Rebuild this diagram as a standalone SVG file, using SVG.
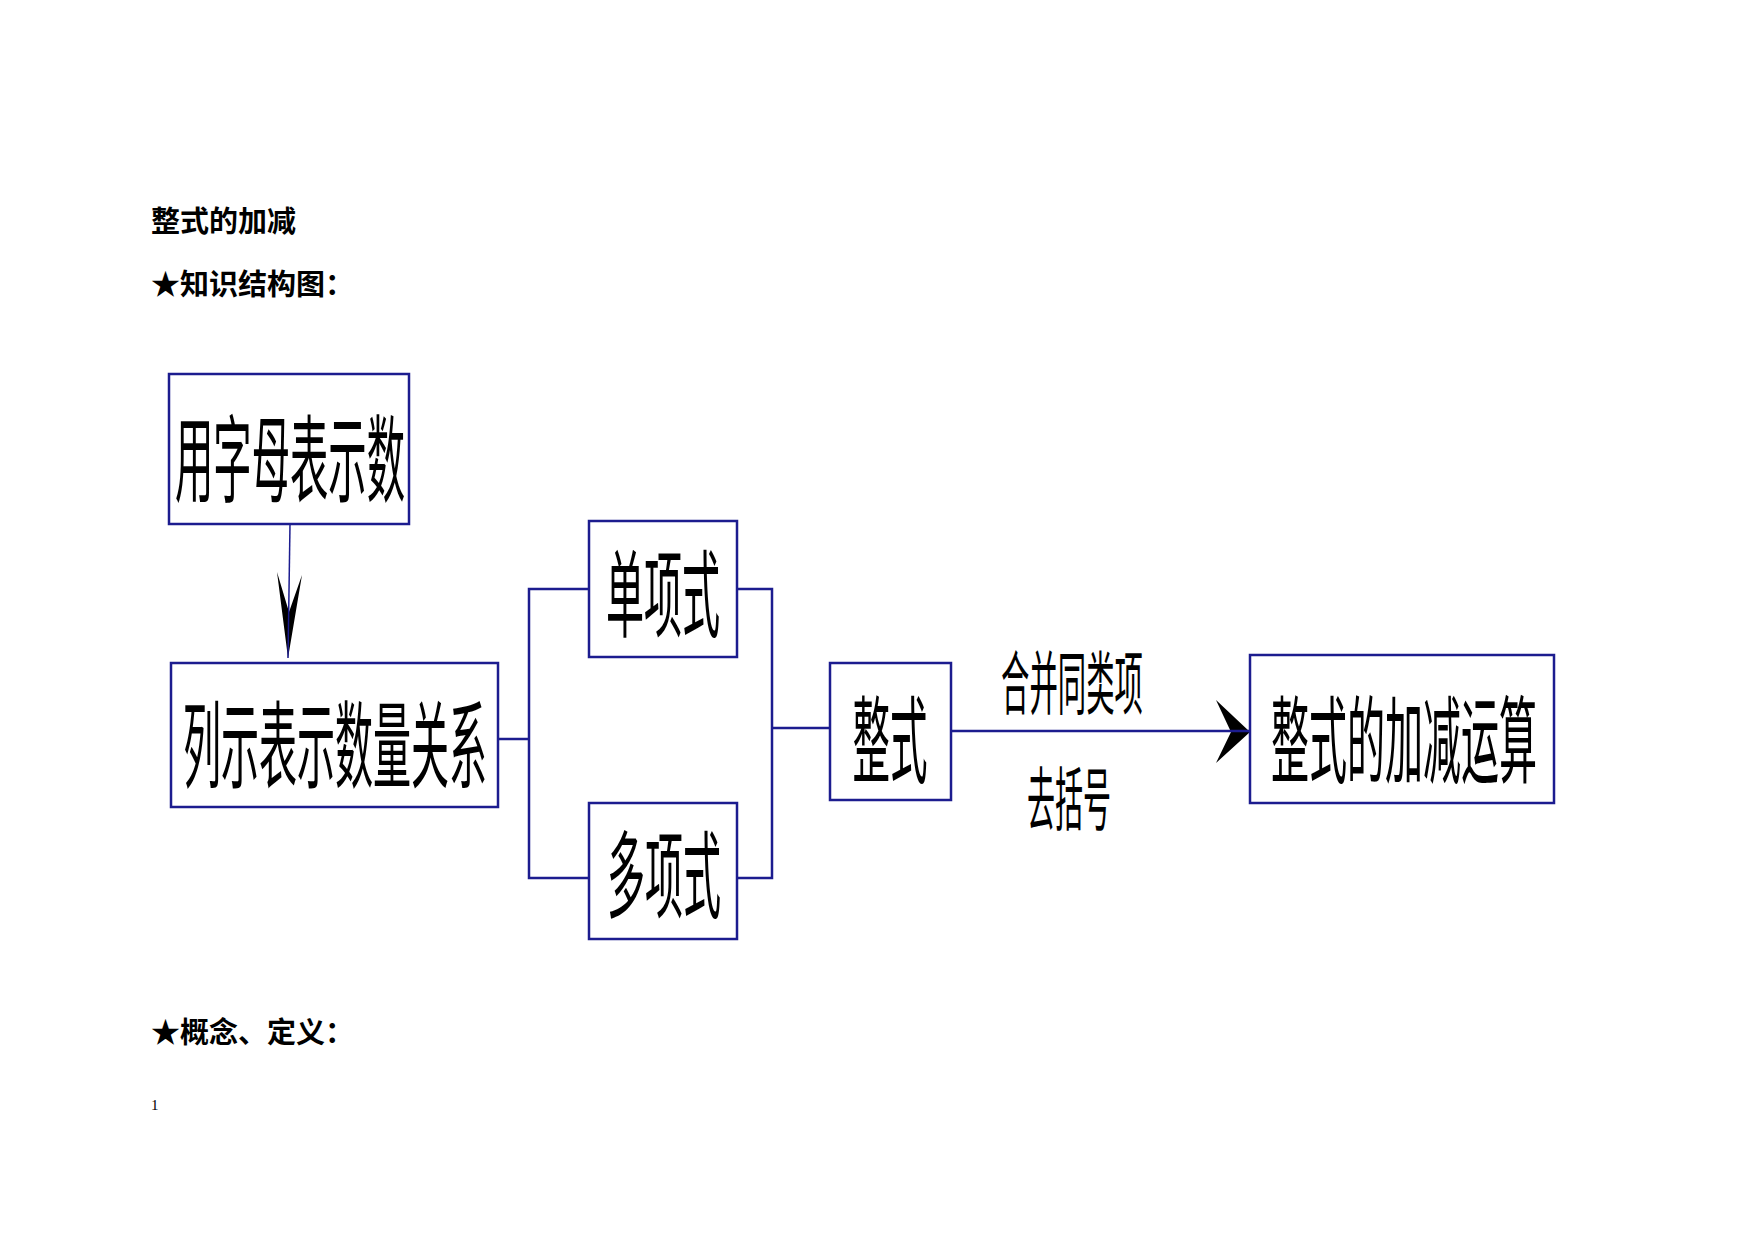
<svg xmlns="http://www.w3.org/2000/svg" width="1755" height="1241" viewBox="0 0 1755 1241">
<style>
.bg{fill:#ffffff}
.head{font-family:"Liberation Serif","Noto Sans CJK SC",serif;font-weight:bold;font-size:29px;fill:#000}
.pnum{font-family:"Liberation Serif",serif;font-size:15px;fill:#000}
.box{fill:#ffffff;stroke:#1c1c8f;stroke-width:2.5}
.lbl{font-family:"Noto Sans CJK SC","Noto Sans",sans-serif;font-size:95px;fill:#000;text-anchor:middle}
.elbl{font-family:"Noto Sans CJK SC","Noto Sans",sans-serif;font-size:69px;fill:#000;text-anchor:middle}
.conn{fill:none;stroke:#1c1c8f;stroke-width:2.5}
.thin{fill:none;stroke:#1c1c8f;stroke-width:1.5}
.head-arrow{fill:#000;stroke:none}
</style>
<rect class="bg" x="0" y="0" width="1755" height="1241"/>
<text class="head" x="151" y="232">整式的加减</text>
<text class="head" x="151" y="295">★知识结构图：</text>
<text class="head" x="151" y="1043">★概念、定义：</text>
<text class="pnum" x="151" y="1110">1</text>

<g id="connectors">
  <path class="head-arrow" d="M277,572 L288,658 L302,575 L289,612 Z"/>
  <path class="thin" d="M290,524 L288,658"/>
  <path class="conn" d="M498,739 H529"/>
  <path class="conn" d="M589,589 H529 V878 H589"/>
  <path class="conn" d="M737,589 H772 V878 H737"/>
  <path class="conn" d="M772,728 H830"/>
  <path class="head-arrow" d="M1216,700 L1250,732 L1216,763 L1231,732 Z"/>
  <path class="conn" d="M951,731 H1250"/>
  <text class="elbl" x="1072" y="709" textLength="142" lengthAdjust="spacingAndGlyphs">合并同类项</text>
  <text class="elbl" x="1069" y="825" textLength="84" lengthAdjust="spacingAndGlyphs">去括号</text>
</g>

<g id="node-yongzimu">
  <rect class="box" x="169" y="374" width="240" height="150"/>
  <text class="lbl" x="290" y="495" textLength="230" lengthAdjust="spacingAndGlyphs">用字母表示数</text>
</g>
<g id="node-lieshi">
  <rect class="box" x="171" y="663" width="327" height="144"/>
  <text class="lbl" x="335" y="781" textLength="304" lengthAdjust="spacingAndGlyphs">列示表示数量关系</text>
</g>
<g id="node-danxiangshi">
  <rect class="box" x="589" y="521" width="148" height="136"/>
  <text class="lbl" x="663" y="630" textLength="114" lengthAdjust="spacingAndGlyphs">单项式</text>
</g>
<g id="node-duoxiangshi">
  <rect class="box" x="589" y="803" width="148" height="136"/>
  <text class="lbl" x="664" y="911" textLength="114" lengthAdjust="spacingAndGlyphs">多项式</text>
</g>
<g id="node-zhengshi">
  <rect class="box" x="830" y="663" width="121" height="137"/>
  <text class="lbl" x="890" y="776" textLength="75" lengthAdjust="spacingAndGlyphs">整式</text>
</g>
<g id="node-jiajian">
  <rect class="box" x="1250" y="655" width="304" height="148"/>
  <text class="lbl" x="1404" y="776" textLength="266" lengthAdjust="spacingAndGlyphs">整式的加减运算</text>
</g>
</svg>
